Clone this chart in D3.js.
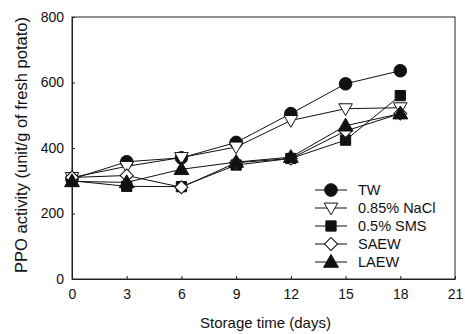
<!DOCTYPE html>
<html>
<head>
<meta charset="utf-8">
<script src="https://cdn.jsdelivr.net/npm/d3@7"></script>
<style>
  body { margin: 0; background: #fff; }
  text { font-family: "Liberation Sans", Arial, sans-serif; fill: #111; }
</style>
</head>
<body>
<div id="chart"></div>
<script>
var days = [0, 3, 6, 9, 12, 15, 18];
var tw    = [305, 358, 370, 417, 505, 596, 636];
var nacl  = [310, 344, 371, 403, 484, 520, 523];
var sms   = [300, 283, 282, 348, 368, 424, 560];
var saew  = [310, 316, 280, 355, 368, 452, 505];
var laew  = [298, 295, 335, 357, 372, 468, 505];
var seriesNames = ["TW", "0.85% NaCl", "0.5% SMS", "SAEW", "LAEW"];
var xTicks = [0, 3, 6, 9, 12, 15, 18, 21];
var yTicks = [0, 200, 400, 600, 800];

var width = 465, height = 334;
var margin = {top: 17, right: 10, bottom: 55, left: 72};

var svg = d3.select("#chart").append("svg")
    .attr("width", width)
    .attr("height", height);

var x = d3.scaleLinear().domain([0, 21]).range([margin.left, width - margin.right]);
var y = d3.scaleLinear().domain([0, 800]).range([height - margin.bottom, margin.top]);

// frame
svg.append("rect")
    .attr("x", x(0)).attr("y", y(800))
    .attr("width", x(21) - x(0)).attr("height", y(0) - y(800))
    .attr("fill", "none").attr("stroke", "#222").attr("stroke-width", 1);

// axes, ticks pointing inward
var xAxis = svg.append("g")
    .attr("transform", "translate(0," + y(0) + ")")
    .call(d3.axisBottom(x).tickValues(xTicks).tickSizeInner(-3).tickSizeOuter(0).tickPadding(10));
var yAxis = svg.append("g")
    .attr("transform", "translate(" + x(0) + ",0)")
    .call(d3.axisLeft(y).tickValues(yTicks).tickSizeInner(-3).tickSizeOuter(0).tickPadding(8));
[xAxis, yAxis].forEach(function(g){
    g.select(".domain").attr("stroke", "#222");
    g.selectAll(".tick line").attr("stroke", "#222");
    g.selectAll(".tick text").style("font-size", "14px").style("font-family", "Liberation Sans, Arial, sans-serif").attr("fill", "#111");
});

svg.append("text")
    .attr("x", (x(0) + x(21)) / 2 + 2)
    .attr("y", 328)
    .attr("text-anchor", "middle")
    .style("font-size", "15px")
    .text("Storage time (days)");

svg.append("text")
    .attr("transform", "translate(27,145) rotate(-90)")
    .attr("text-anchor", "middle")
    .style("font-size", "16.5px")
    .text("PPO activity (unit/g of fresh potato)");

// marker shapes
var symbols = [
    {type: d3.symbolCircle, size: 125, fill: "#111", rot: 0},
    {type: d3.symbolTriangle, size: 80, fill: "#fff", rot: 180},
    {type: d3.symbolSquare, size: 105, fill: "#111", rot: 0},
    {type: d3.symbolSquare, size: 85, fill: "#fff", rot: 45},
    {type: d3.symbolTriangle, size: 95, fill: "#111", rot: 0}
];
var allSeries = [tw, nacl, sms, saew, laew];

var line = d3.line().x(function(d, i){ return x(days[i]); }).y(function(d){ return y(d); });

function drawMarker(g, s, cx, cy){
    var dy = s.type === d3.symbolTriangle ? (s.rot ? -1 : 1) : 0;
    g.append("path")
        .attr("d", d3.symbol().type(s.type).size(s.size))
        .attr("transform", "translate(" + cx + "," + (cy + dy) + ") rotate(" + s.rot + ")")
        .attr("fill", s.fill)
        .attr("stroke", "#111")
        .attr("stroke-width", 1);
}

allSeries.forEach(function(vals, k){
    var g = svg.append("g");
    g.append("path")
        .datum(vals)
        .attr("d", line)
        .attr("fill", "none")
        .attr("stroke", "#111")
        .attr("stroke-width", 1);
    vals.forEach(function(v, i){
        drawMarker(g, symbols[k], x(days[i]), y(v));
    });
});

// legend
var legend = svg.append("g");
seriesNames.forEach(function(name, k){
    var ly = 190 + k * 18;
    legend.append("line")
        .attr("x1", 315).attr("x2", 347)
        .attr("y1", ly).attr("y2", ly)
        .attr("stroke", "#111").attr("stroke-width", 1);
    drawMarker(legend, symbols[k], 331, ly);
    legend.append("text")
        .attr("x", 358).attr("y", ly + 5)
        .style("font-size", "14.5px")
        .text(name);
});
</script>
</body>
</html>
